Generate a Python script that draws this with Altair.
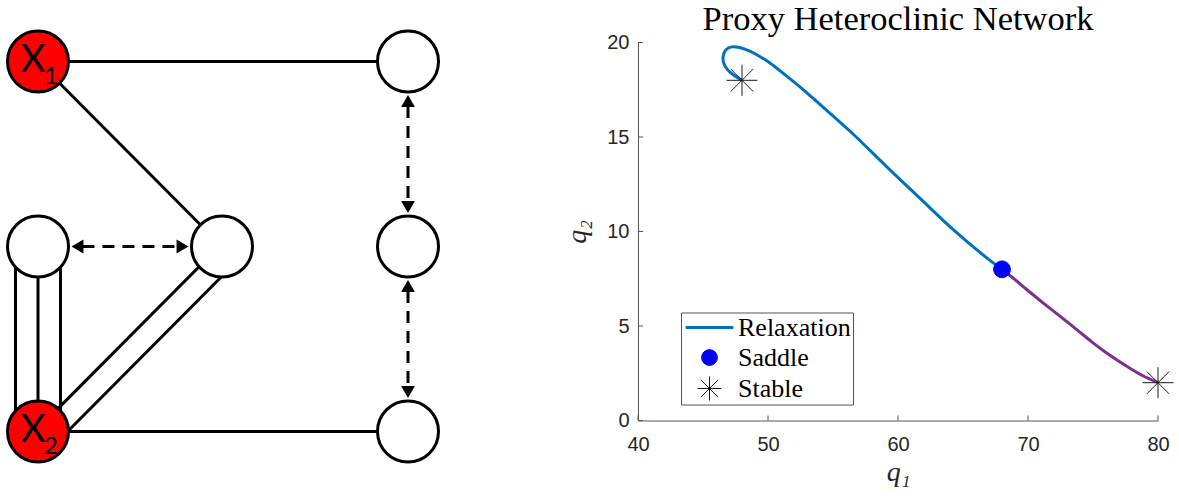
import math
import altair as alt
import pandas as pd

# ---------------- left panel: network diagram (layout coordinates in px) ----------------
node_x = [38, 408, 38, 222, 408, 38, 408]
node_y = [62, 62, 247, 247, 247, 432, 432]
node_driven = [True, False, False, False, False, True, False]

# solid links: from node, to node, perpendicular offset of parallel strands
link_from = [0, 0, 2, 2, 2, 5, 5, 5]
link_to = [1, 3, 5, 5, 5, 3, 3, 6]
link_off = [0, 0, -22.5, 0, 22.5, -2, 21, 0]

# dashed double-headed arrows
arrow_from = [2, 1, 4]
arrow_to = [3, 4, 6]

label_node = [0, 5]
label_main = ["X", "X"]
label_sub = ["1", "2"]

# ---------------- right panel: proxy heteroclinic network ----------------
q1_relax = [48.0, 47.4, 46.9, 46.6, 46.55, 46.75, 47.2, 47.8, 48.6, 49.4, 50.15, 51.44,
            52.7, 54.0, 55.3, 56.6, 59.1, 61.7, 64.25, 66.8, 68.0]
q2_relax = [18.0, 18.25, 18.55, 18.9, 19.27, 19.6, 19.77, 19.74, 19.54, 19.25, 18.92, 18.22,
            17.51, 16.72, 15.93, 15.12, 13.45, 11.75, 10.1, 8.62, 8.0]
q1_unst = [68.0, 69.0, 69.9, 71.2, 72.5, 73.8, 75.0, 76.3, 77.6, 78.8, 80.0]
q2_unst = [8.0, 7.45, 6.93, 6.2, 5.5, 4.78, 4.11, 3.45, 2.87, 2.38, 2.0]

pt_kind = ["Saddle", "Stable", "Stable"]
pt_q1 = [68.0, 48.0, 80.0]
pt_q2 = [8.0, 18.0, 2.0]

legend_items = ["Relaxation", "Saddle", "Stable"]
x_ticks = [40, 50, 60, 70, 80]
y_ticks = [0, 5, 10, 15, 20]

# ======================= build left panel =======================
LW, LH = 460, 378
R_TIP = 33.5
HEAD = 190
h = math.sqrt(3) / 2 * math.sqrt(HEAD) / 2

nodes = pd.DataFrame({"x": node_x, "y": node_y, "driven": node_driven})

links = []
for a, b, off in zip(link_from, link_to, link_off):
    ax, ay, bx, by = node_x[a], node_y[a], node_x[b], node_y[b]
    L = math.hypot(bx - ax, by - ay)
    nx, ny = -(by - ay) / L, (bx - ax) / L
    links.append(dict(x=ax + nx * off, y=ay + ny * off, x2=bx + nx * off, y2=by + ny * off))
links = pd.DataFrame(links)

shafts, heads = [], []
for a, b in zip(arrow_from, arrow_to):
    ax, ay, bx, by = node_x[a], node_y[a], node_x[b], node_y[b]
    L = math.hypot(bx - ax, by - ay)
    ux, uy = (bx - ax) / L, (by - ay) / L
    ta = (ax + ux * R_TIP, ay + uy * R_TIP)
    tb = (bx - ux * R_TIP, by - uy * R_TIP)
    for (tx, ty), (dx, dy) in [(ta, (-ux, -uy)), (tb, (ux, uy))]:
        heads.append(dict(x=tx - dx * h, y=ty - dy * h,
                          rot=math.degrees(math.atan2(dx, -dy)) % 360))
    shafts.append(dict(x=ta[0] + ux * (2 * h - 1), y=ta[1] + uy * (2 * h - 1),
                       x2=tb[0] - ux * (2 * h - 1), y2=tb[1] - uy * (2 * h - 1)))
shafts = pd.DataFrame(shafts)
heads = pd.DataFrame(heads)

labels = pd.DataFrame({"x": [node_x[i] for i in label_node],
                       "y": [node_y[i] for i in label_node],
                       "main": label_main, "sub": label_sub})

LX = alt.X("x:Q", scale=alt.Scale(domain=[0, LW], nice=False, zero=False), axis=None)
LY = alt.Y("y:Q", scale=alt.Scale(domain=[43, 43 + LH], nice=False, zero=False, reverse=True), axis=None)

link_layer = alt.Chart(links).mark_rule(color="black", strokeWidth=3).encode(
    x=LX, y=LY, x2="x2:Q", y2="y2:Q")
shaft_layer = alt.Chart(shafts).mark_rule(color="black", strokeWidth=3, strokeDash=[12, 8]).encode(
    x=LX, y=LY, x2="x2:Q", y2="y2:Q")
head_layer = alt.Chart(heads).mark_point(shape="triangle-up", filled=True, color="black",
                                         size=HEAD, opacity=1).encode(
    x=LX, y=LY, angle=alt.Angle("rot:Q", scale=None))
red_nodes = alt.Chart(nodes[nodes["driven"]]).mark_point(
    filled=True, fill="#ff0000", stroke="black", strokeWidth=3, size=3721, opacity=1).encode(x=LX, y=LY)
white_nodes = alt.Chart(nodes[~nodes["driven"]]).mark_point(
    filled=True, fill="white", stroke="black", strokeWidth=3, size=3721, opacity=1).encode(x=LX, y=LY)
main_text = alt.Chart(labels).mark_text(font="Lato", fontSize=38, color="black", align="center",
                                        baseline="alphabetic", dx=-5, dy=10.5).encode(
    x=LX, y=LY, text="main:N")
sub_text = alt.Chart(labels).mark_text(font="Lato", fontSize=24, color="black", align="center",
                                       baseline="alphabetic", dx=13, dy=22).encode(
    x=LX, y=LY, text="sub:N")

left = alt.layer(link_layer, shaft_layer, head_layer, red_nodes, white_nodes,
                 main_text, sub_text).properties(width=LW, height=LH)

# ======================= build right panel =======================
RW, RH = 520, 378
xs = alt.Scale(domain=[40, 80], nice=False, zero=False)
ys = alt.Scale(domain=[0, 20], nice=False, zero=False)
xaxis = alt.Axis(values=x_ticks, ticks=False, grid=False, labelFlush=False, labelOverlap=False,
                 labelFont="Liberation Sans", labelFontSize=20, labelColor="#262626", labelPadding=14,
                 domainColor="#555555", domainWidth=1,
                 title="q\u2081", titleFont="Liberation Serif", titleFontStyle="italic",
                 titleFontWeight="normal", titleFontSize=28, titleColor="#262626", titlePadding=4)
yaxis = alt.Axis(values=y_ticks, ticks=False, grid=False, labelFlush=False, labelOverlap=False,
                 labelFont="Liberation Sans", labelFontSize=20, labelColor="#262626", labelPadding=9,
                 domainColor="#555555", domainWidth=1,
                 title="q\u2082", titleFont="Liberation Serif", titleFontStyle="italic",
                 titleFontWeight="normal", titleFontSize=28, titleColor="#262626", titlePadding=15)
RX = alt.X("q1:Q", scale=xs, axis=xaxis)
RY = alt.Y("q2:Q", scale=ys, axis=yaxis)

relax = pd.DataFrame({"q1": q1_relax, "q2": q2_relax, "i": range(len(q1_relax))})
unst = pd.DataFrame({"q1": q1_unst, "q2": q2_unst, "i": range(len(q1_unst))})
pts = pd.DataFrame({"q1": pt_q1, "q2": pt_q2, "kind": pt_kind})

xt = alt.Chart(pd.DataFrame({"q1": x_ticks})).mark_rule(color="#555555", strokeWidth=1).encode(
    x=RX, y=alt.value(RH), y2=alt.value(RH - 5))
yt = alt.Chart(pd.DataFrame({"q2": y_ticks})).mark_rule(color="#555555", strokeWidth=1).encode(
    y=RY, x=alt.value(0), x2=alt.value(5))

blue_line = alt.Chart(relax).mark_line(color="#0072BD", strokeWidth=3, interpolate="catmull-rom").encode(
    x=RX, y=RY, order="i:Q")
purple_line = alt.Chart(unst).mark_line(color="#7E2F8E", strokeWidth=3, interpolate="catmull-rom").encode(
    x=RX, y=RY, order="i:Q")

# legend symbols share one size; shapes are drawn at relative scale inside the unit box
LINE_SYM = "M-1.96,-0.08L1.96,-0.08L1.96,0.08L-1.96,0.08Z"
R = 0.654
DOT_SYM = f"M-{R},0A{R},{R} 0 1,0 {R},0A{R},{R} 0 1,0 -{R},0Z"
STAR = "M-1,0L1,0M0,-1L0,1M-0.72,-0.72L0.72,0.72M-0.72,0.72L0.72,-0.72"

leg = alt.Legend(
    title=None, orient="none", legendX=43, legendY=270,
    fillColor="white", strokeColor="#555555", padding=2,
    symbolSize=576, symbolOffset=13.5, labelOffset=15.5, rowPadding=4,
    symbolStrokeWidth=1, symbolOpacity=1,
    labelFont="Liberation Serif", labelFontSize=26, labelColor="black")
shape_enc = alt.Shape("kind:N", scale=alt.Scale(domain=legend_items, range=[LINE_SYM, DOT_SYM, STAR]), legend=leg)
fill_enc = alt.Fill("kind:N", scale=alt.Scale(domain=legend_items, range=["#0072BD", "#0000ff", "transparent"]), legend=leg)
stroke_enc = alt.Stroke("kind:N", scale=alt.Scale(domain=legend_items, range=["#0072BD", "#0000ff", "#1a1a1a"]), legend=leg)

saddle = alt.Chart(pts[pts["kind"] == "Saddle"]).mark_point(
    filled=True, size=652, strokeWidth=1, opacity=1).encode(
    x=RX, y=RY, shape=shape_enc, fill=fill_enc, stroke=stroke_enc)
stable = alt.Chart(pts[pts["kind"] == "Stable"]).mark_point(
    filled=True, size=961, strokeWidth=1, opacity=1).encode(
    x=RX, y=RY, shape=shape_enc, fill=fill_enc, stroke=stroke_enc)

right = alt.layer(xt, yt, blue_line, purple_line, saddle, stable).properties(
    width=RW, height=RH,
    title=alt.TitleParams("Proxy Heteroclinic Network", font="Liberation Serif", fontSize=34.5,
                          fontWeight="normal", color="black", anchor="middle", frame="group",
                          baseline="alphabetic", offset=-32))

chart = alt.hconcat(left, right, spacing=638 - LW, bounds="flush").resolve_scale(
    shape="independent", fill="independent", stroke="independent"
).resolve_legend(
    shape="independent", fill="independent", stroke="independent"
).properties(
    padding={"left": 0, "top": 1.5, "right": 0, "bottom": 0}
).configure_view(stroke=None)

chart.save("out.html", embed_options={"renderer": "svg", "actions": False})
